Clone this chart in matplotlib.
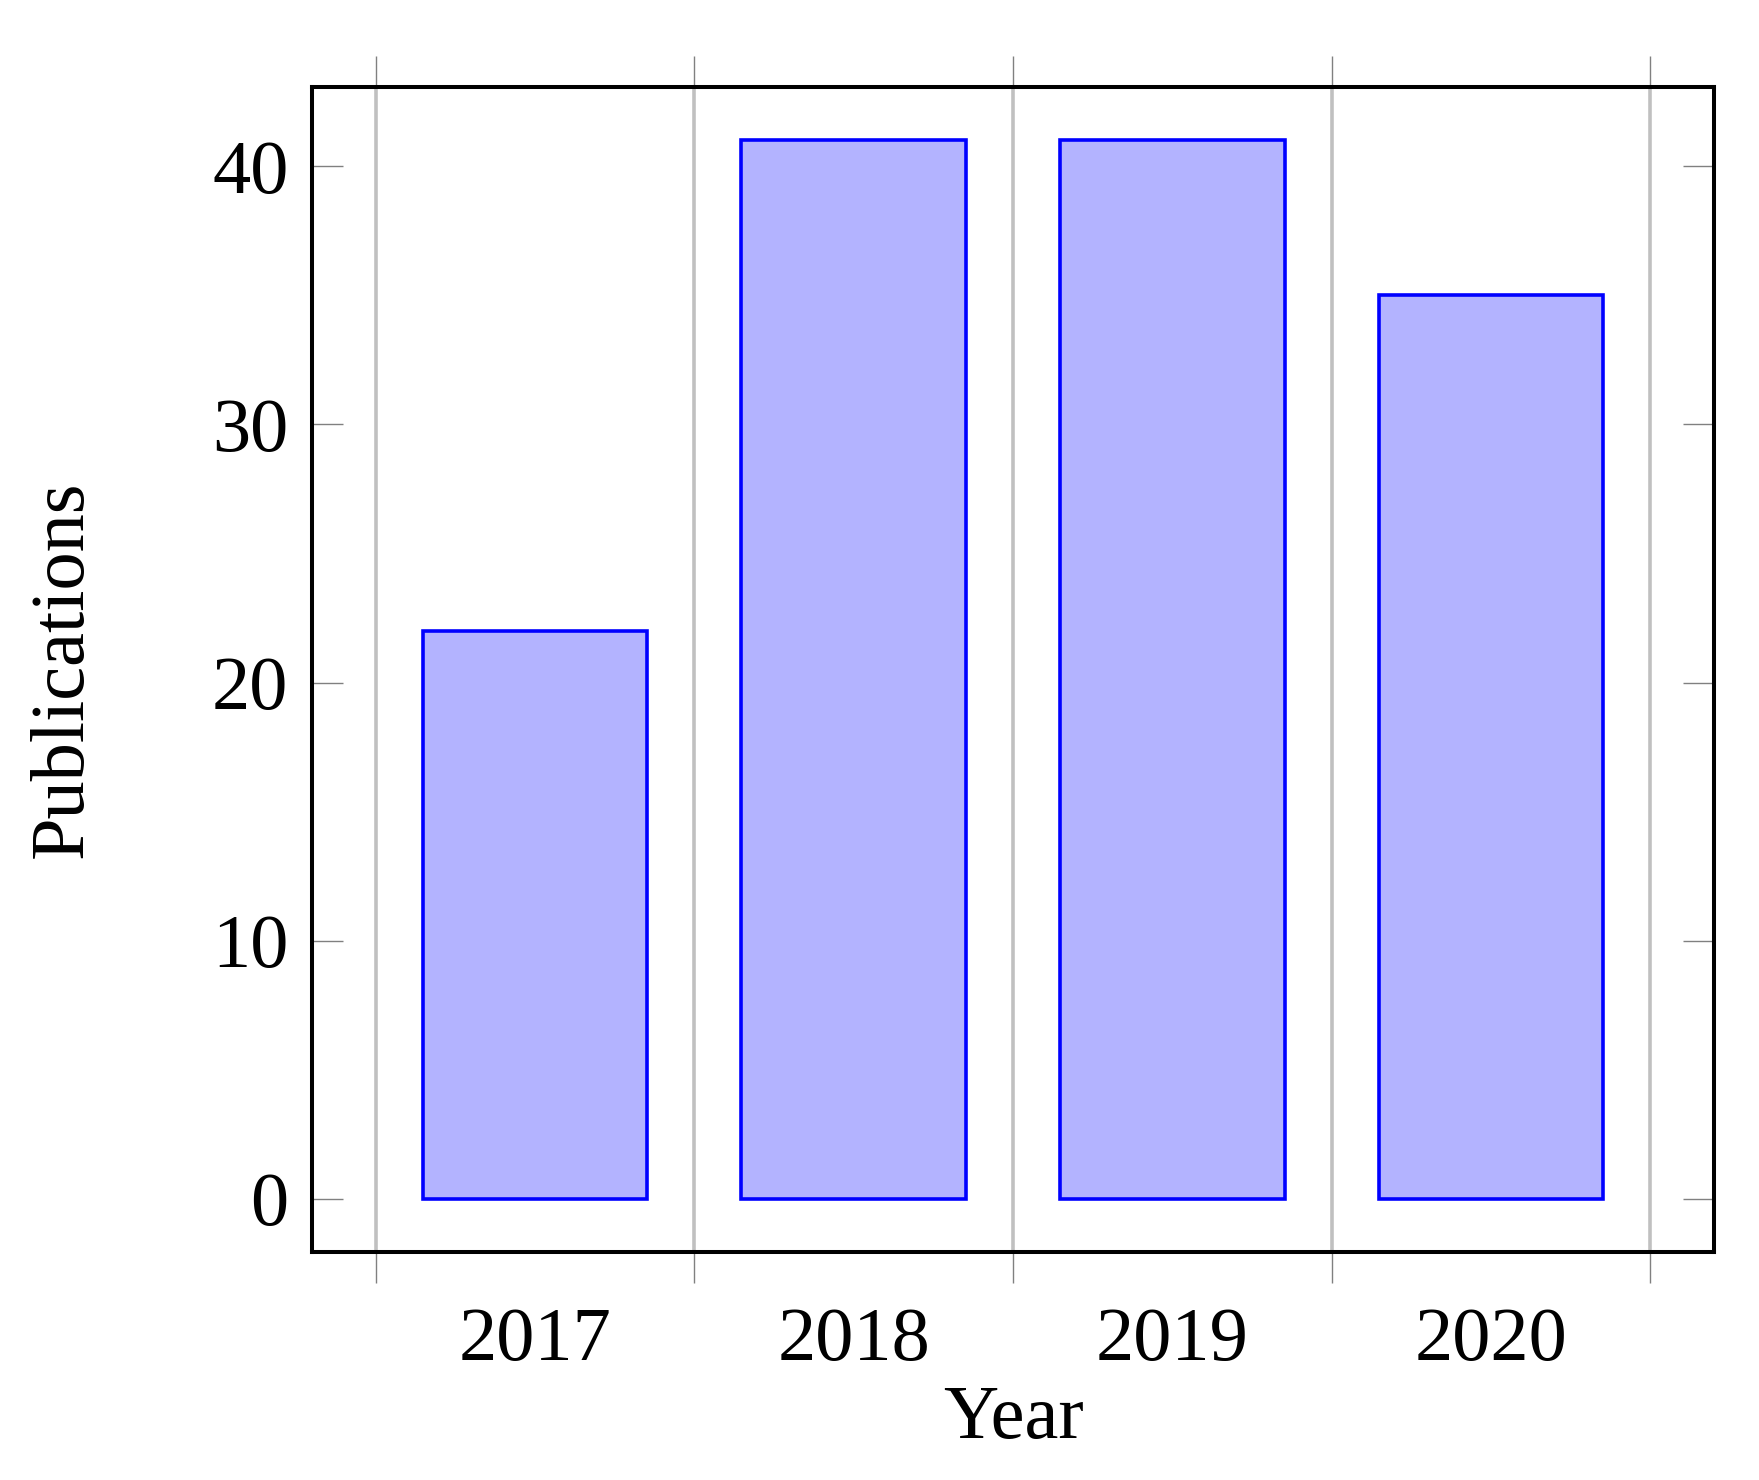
import matplotlib
matplotlib.use("Agg")
import matplotlib.pyplot as plt
import numpy as np

# publications per year
years = ["2017", "2018", "2019", "2020"]
publications = [22, 41, 41, 35]

plt.rcParams['font.family'] = ['Liberation Serif', 'DejaVu Serif']

fig = plt.figure(figsize=(17.59, 14.80), dpi=100)
ax = fig.add_axes([0.1774, 0.1541, 0.797, 0.7871])

x = np.arange(len(years))
ax.bar(x, publications, width=0.705, color=(0.70, 0.70, 1.0),
       edgecolor=(0, 0, 1), linewidth=2.6, zorder=3)

ax.set_xlim(-0.70, 3.70)
ax.set_ylim(-2.05, 43.06)

# major x ticks sit between the bars (grid + outer ticks), labels on minor ticks
ax.set_xticks(np.arange(-0.5, len(years), 1.0))
ax.set_xticklabels([])
ax.set_xticks(x, minor=True)
ax.set_xticklabels(years, minor=True)
ax.tick_params(axis='x', which='major', direction='out', length=22, width=1.0,
               color='#808080', top=True, bottom=True)
ax.tick_params(axis='x', which='minor', length=0, pad=40, labelsize=55)
ax.grid(axis='x', which='major', color='#c0c0c0', linewidth=2.6, zorder=1)

ax.set_yticks([0, 10, 20, 30, 40])
ax.tick_params(axis='y', direction='in', length=22, width=1.0, color='#808080',
               left=True, right=True, pad=17, labelsize=55)

for s in ax.spines.values():
    s.set_linewidth(2.9)
    s.set_zorder(4)

ax.set_xlabel("Year", fontsize=55, labelpad=6)
ax.set_ylabel("Publications", fontsize=55, labelpad=82)

fig.savefig("out.png", dpi=100)
